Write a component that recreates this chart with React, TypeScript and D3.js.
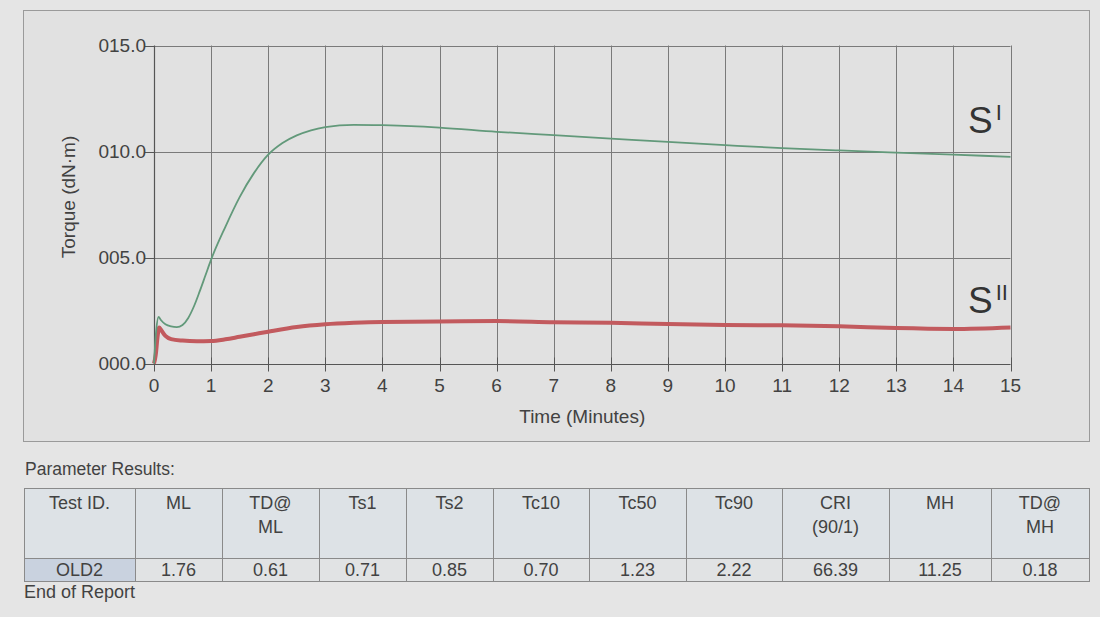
import React, { useEffect, useRef } from 'react';
import * as d3 from 'd3';

// S' curve (green), torque in dN·m against time in minutes
const sPrimeTime = [0, 0.04, 0.08, 0.12, 0.2, 0.3, 0.4, 0.5, 0.6, 0.7, 0.8, 0.9, 1.0, 1.25, 1.5, 1.75, 2.0, 2.25, 2.5, 2.75, 3.0, 3.5, 4.0, 4.5, 5.0, 6.0, 7.0, 8.0, 9.0, 10.0, 11.0, 12.0, 13.0, 14.0, 15.0];
const sPrimeTorque = [0, 1.6, 2.2, 2.05, 1.85, 1.75, 1.72, 1.82, 2.15, 2.7, 3.4, 4.15, 4.9, 6.45, 7.85, 8.98, 9.85, 10.4, 10.76, 11.0, 11.15, 11.26, 11.24, 11.2, 11.13, 10.93, 10.77, 10.61, 10.45, 10.3, 10.16, 10.05, 9.95, 9.85, 9.75];

// S'' curve (red)
const sDoubleTime = [0, 0.03, 0.06, 0.09, 0.12, 0.2, 0.3, 0.5, 0.75, 1.0, 1.25, 1.5, 1.75, 2.0, 2.5, 3.0, 3.5, 4.0, 5.0, 6.0, 7.0, 8.0, 9.0, 10.0, 11.0, 12.0, 13.0, 14.0, 15.0];
const sDoubleTorque = [0, 0.4, 1.2, 1.7, 1.6, 1.3, 1.15, 1.08, 1.05, 1.06, 1.14, 1.26, 1.38, 1.5, 1.72, 1.85, 1.92, 1.96, 1.98, 2.0, 1.95, 1.92, 1.86, 1.82, 1.8, 1.76, 1.67, 1.63, 1.7];

const xTicks = d3.range(0, 16);
const yTicks = [0, 5, 10, 15];

// parameter table
const tableHeaders = [['Test ID.'], ['ML'], ['TD@', 'ML'], ['Ts1'], ['Ts2'], ['Tc10'], ['Tc50'], ['Tc90'], ['CRI', '(90/1)'], ['MH'], ['TD@', 'MH']];
const tableValues = ['OLD2', '1.76', '0.61', '0.71', '0.85', '0.70', '1.23', '2.22', '66.39', '11.25', '0.18'];
const columnEdges = [24, 135, 222, 319, 406, 493, 589, 686, 782, 889, 991, 1089];

const FONT = 'Liberation Sans, Arial, Helvetica, sans-serif';
const TEXT = '#424242';

const App = () => {
  const svgRef = useRef(null);

  useEffect(() => {
    const width = 1100;
    const height = 617;

    const svg = d3.select(svgRef.current)
      .attr('width', width)
      .attr('height', height);

    svg.selectAll('*').remove();

    // paper
    svg.append('rect').attr('width', width).attr('height', height).attr('fill', '#e5e5e5');

    // chart frame
    svg.append('rect')
      .attr('x', 23.5).attr('y', 10.5)
      .attr('width', 1066).attr('height', 431)
      .attr('fill', '#e1e1e1')
      .attr('stroke', '#9a9a9a');

    const x = d3.scaleLinear().domain([0, 15]).range([154, 1010.5]);
    const y = d3.scaleLinear().domain([0, 15]).range([363.5, 45.5]);

    // grid
    const grid = svg.append('g').attr('stroke', '#7a7a7a').attr('stroke-width', 1);
    grid.selectAll('line.v')
      .data(xTicks.slice(1))
      .enter()
      .append('line')
      .attr('x1', d => Math.round(x(d)) + 0.5)
      .attr('x2', d => Math.round(x(d)) + 0.5)
      .attr('y1', y(15)).attr('y2', y(0));
    grid.selectAll('line.h')
      .data(yTicks.slice(1))
      .enter()
      .append('line')
      .attr('x1', x(0)).attr('x2', x(15))
      .attr('y1', d => Math.round(y(d)) + 0.5)
      .attr('y2', d => Math.round(y(d)) + 0.5);

    // axes
    const axes = svg.append('g').attr('stroke', '#555').attr('stroke-width', 1.2);
    axes.append('line')
      .attr('x1', Math.round(x(0)) + 0.5).attr('x2', Math.round(x(0)) + 0.5)
      .attr('y1', y(15)).attr('y2', y(0));
    axes.append('line')
      .attr('x1', x(0)).attr('x2', x(15))
      .attr('y1', Math.round(y(0)) + 0.5).attr('y2', Math.round(y(0)) + 0.5);

    // y ticks and labels
    const yFmt = d3.format('05.1f');
    const yAxis = svg.append('g');
    yAxis.selectAll('line')
      .data(yTicks)
      .enter()
      .append('line')
      .attr('x1', x(0) - 9).attr('x2', x(0))
      .attr('y1', d => Math.round(y(d)) + 0.5)
      .attr('y2', d => Math.round(y(d)) + 0.5)
      .attr('stroke', '#555');
    yAxis.selectAll('text')
      .data(yTicks)
      .enter()
      .append('text')
      .attr('x', x(0) - 8)
      .attr('y', d => y(d) + 6.5)
      .attr('text-anchor', 'end')
      .attr('font-family', FONT)
      .attr('font-size', '19px')
      .attr('fill', TEXT)
      .text(d => yFmt(d));

    // x ticks and labels
    const xAxis = svg.append('g');
    xAxis.selectAll('line')
      .data(xTicks)
      .enter()
      .append('line')
      .attr('x1', d => Math.round(x(d)) + 0.5)
      .attr('x2', d => Math.round(x(d)) + 0.5)
      .attr('y1', y(0) - 6).attr('y2', y(0) + 8)
      .attr('stroke', '#555');
    xAxis.selectAll('text')
      .data(xTicks)
      .enter()
      .append('text')
      .attr('x', d => x(d))
      .attr('y', y(0) + 28)
      .attr('text-anchor', 'middle')
      .attr('font-family', FONT)
      .attr('font-size', '19px')
      .attr('fill', TEXT)
      .text(d => d);

    // axis titles
    svg.append('text')
      .attr('x', (x(0) + x(15)) / 2)
      .attr('y', 423)
      .attr('text-anchor', 'middle')
      .attr('font-family', FONT)
      .attr('font-size', '19px')
      .attr('fill', TEXT)
      .text('Time (Minutes)');
    svg.append('text')
      .attr('transform', 'translate(75, 197) rotate(-90)')
      .attr('text-anchor', 'middle')
      .attr('font-family', FONT)
      .attr('font-size', '19px')
      .attr('fill', TEXT)
      .text('Torque (dN·m)');

    // curves
    const line = d3.line()
      .x(d => x(d[0]))
      .y(d => y(d[1]))
      .curve(d3.curveMonotoneX);

    svg.append('path')
      .attr('d', line(sDoubleTime.map((t, i) => [t, sDoubleTorque[i]])))
      .attr('fill', 'none')
      .attr('stroke', '#c25a5e')
      .attr('stroke-width', 4)
      .attr('stroke-linejoin', 'round');

    svg.append('path')
      .attr('d', line(sPrimeTime.map((t, i) => [t, sPrimeTorque[i]])))
      .attr('fill', 'none')
      .attr('stroke', '#62997a')
      .attr('stroke-width', 1.8);

    // curve labels
    const addLabel = (sup, baseY) => {
      const t = svg.append('text')
        .attr('x', 968)
        .attr('y', baseY)
        .attr('font-family', FONT)
        .attr('font-size', '37px')
        .attr('fill', '#333');
      t.append('tspan').text('S');
      t.append('tspan')
        .attr('dx', 3)
        .attr('dy', -13)
        .attr('font-size', '22px')
        .text(sup);
    };
    addLabel('I', 133);
    addLabel('II', 313);

    // parameter results
    svg.append('text')
      .attr('x', 25).attr('y', 475)
      .attr('font-family', FONT)
      .attr('font-size', '17.5px')
      .attr('fill', TEXT)
      .text('Parameter Results:');

    const top = 488.5;
    const mid = 558.5;
    const bottom = 581.5;

    const table = svg.append('g');
    const cells = table.selectAll('g')
      .data(tableHeaders)
      .enter()
      .append('g');

    cells.append('rect')
      .attr('x', (d, i) => columnEdges[i] + 0.5)
      .attr('y', top)
      .attr('width', (d, i) => columnEdges[i + 1] - columnEdges[i])
      .attr('height', mid - top)
      .attr('fill', '#dde2e6')
      .attr('stroke', '#8a8a8a');
    cells.append('rect')
      .attr('x', (d, i) => columnEdges[i] + 0.5)
      .attr('y', mid)
      .attr('width', (d, i) => columnEdges[i + 1] - columnEdges[i])
      .attr('height', bottom - mid)
      .attr('fill', (d, i) => (i === 0 ? '#c9d2df' : '#e1e3e4'))
      .attr('stroke', '#8a8a8a');

    cells.each(function (d, i) {
      const cx = (columnEdges[i] + columnEdges[i + 1]) / 2;
      const g = d3.select(this);
      d.forEach((ln, k) => {
        g.append('text')
          .attr('x', cx)
          .attr('y', 509 + k * 24)
          .attr('text-anchor', 'middle')
          .attr('font-family', FONT)
          .attr('font-size', '18px')
          .attr('fill', TEXT)
          .text(ln);
      });
      g.append('text')
        .attr('x', cx)
        .attr('y', 576)
        .attr('text-anchor', 'middle')
        .attr('font-family', FONT)
        .attr('font-size', '18px')
        .attr('fill', TEXT)
        .text(tableValues[i]);
    });

    svg.append('text')
      .attr('x', 24).attr('y', 598)
      .attr('font-family', FONT)
      .attr('font-size', '18px')
      .attr('fill', TEXT)
      .text('End of Report');
  }, []);

  return <svg ref={svgRef} style={{ position: 'absolute', left: 0, top: 0, display: 'block' }} />;
};

export default App;
